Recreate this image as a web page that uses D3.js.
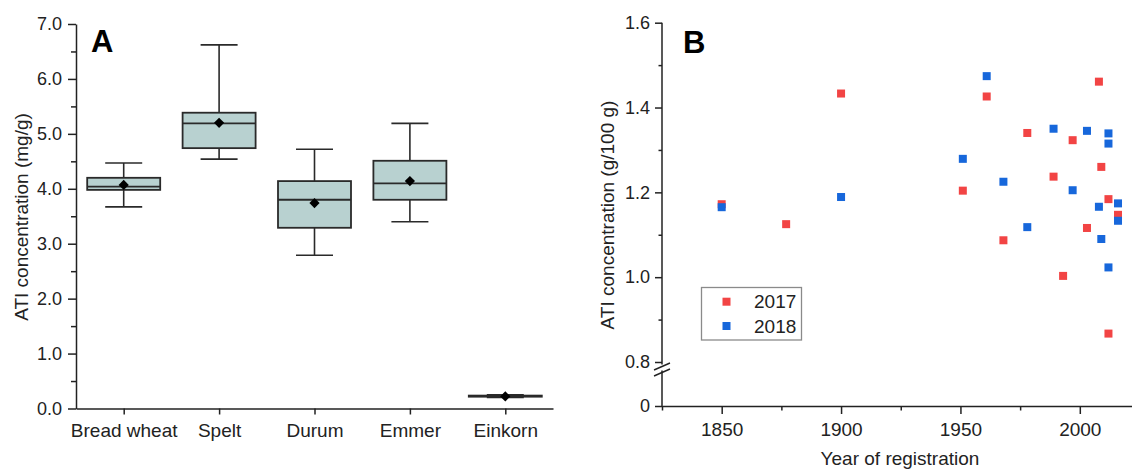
<!DOCTYPE html>
<html>
<head>
<meta charset="utf-8">
<style>
    body { margin: 0; background: white; }
    svg { font-family: "Liberation Sans", Arial, sans-serif; display: block; }
    .axis text { font-size: 18px; fill: #222; }
    .axis path, .axis line { stroke: #222; stroke-width: 1.5; }
</style>
</head>
<body>
<svg width="1132" height="472"></svg>
<script src="https://cdn.jsdelivr.net/npm/d3@7"></script>
<script>
    // panel A: box plots
    let categories = ["Bread wheat", "Spelt", "Durum", "Emmer", "Einkorn"];
    let whiskerLow = [3.67, 4.54, 2.79, 3.40, 0.20];
    let q1 = [3.98, 4.74, 3.29, 3.80, 0.215];
    let median = [4.04, 5.19, 3.80, 4.10, 0.225];
    let q3 = [4.20, 5.385, 4.14, 4.51, 0.235];
    let whiskerHigh = [4.47, 6.62, 4.72, 5.19, 0.25];
    let means = [4.07, 5.20, 3.74, 4.14, 0.22];

    // panel B: scatter by year of registration
    let years2017 = [1850, 1877, 1900, 1951, 1961, 1968, 1978, 1989, 1993, 1997, 2003, 2008, 2009, 2012, 2012, 2016];
    let ati2017 = [1.172, 1.125, 1.433, 1.204, 1.426, 1.087, 1.340, 1.237, 1.003, 1.323, 1.116, 1.461, 1.260, 1.184, 0.867, 1.147];
    let years2018 = [1850, 1900, 1951, 1961, 1968, 1978, 1989, 1997, 2003, 2008, 2009, 2012, 2012, 2012, 2016, 2016];
    let ati2018 = [1.165, 1.189, 1.279, 1.474, 1.225, 1.118, 1.350, 1.205, 1.345, 1.166, 1.090, 1.339, 1.315, 1.023, 1.174, 1.133];

    let red = "#f24444";
    let blue = "#1767db";

    let svg = d3.select("svg");

    // ---------- A ----------
    let xA = d3.scalePoint().domain(categories).range([76, 553]).padding(0.5);
    let yA = d3.scaleLinear().domain([0, 7]).range([408.5, 24]);

    let gA = svg.append("g");

    gA.append("g")
        .attr("class", "axis")
        .attr("transform", "translate(76,0)")
        .call(d3.axisLeft(yA).tickValues(d3.range(0.5, 7, 1)).tickSize(5).tickSizeOuter(0).tickFormat(""))
        .select(".domain").remove();

    gA.append("g")
        .attr("class", "axis")
        .attr("transform", "translate(76,0)")
        .call(d3.axisLeft(yA).tickValues(d3.range(0, 7.01, 1)).tickSize(8).tickSizeOuter(0).tickPadding(6).tickFormat(d3.format(".1f")))

    let xAxisA = gA.append("g")
        .attr("class", "axis")
        .attr("transform", "translate(0,408.5)")
        .call(d3.axisBottom(xA).tickSize(6).tickSizeOuter(0).tickPadding(9))
    xAxisA.selectAll("text").style("font-size", "19px")

    let boxW = 73, capW = 37;
    let boxes = gA.append("g")
        .selectAll("g")
        .data(categories)
        .join("g")
        .attr("transform", d => `translate(${xA(d)},0)`)

    boxes.append("line")
        .attr("y1", (d, i) => yA(whiskerLow[i]))
        .attr("y2", (d, i) => yA(whiskerHigh[i]))
        .attr("stroke", "#2a2a2a").attr("stroke-width", 1.6)
    boxes.append("line")
        .attr("x1", -capW / 2).attr("x2", capW / 2)
        .attr("y1", (d, i) => yA(whiskerLow[i])).attr("y2", (d, i) => yA(whiskerLow[i]))
        .attr("stroke", "#2a2a2a").attr("stroke-width", 1.6)
    boxes.append("line")
        .attr("x1", -capW / 2).attr("x2", capW / 2)
        .attr("y1", (d, i) => yA(whiskerHigh[i])).attr("y2", (d, i) => yA(whiskerHigh[i]))
        .attr("stroke", "#2a2a2a").attr("stroke-width", 1.6)
    boxes.append("rect")
        .attr("x", -boxW / 2).attr("width", boxW)
        .attr("y", (d, i) => yA(q3[i]))
        .attr("height", (d, i) => yA(q1[i]) - yA(q3[i]))
        .attr("fill", "#b8d1d0")
        .attr("stroke", "#2a2a2a").attr("stroke-width", 1.8)
    boxes.append("line")
        .attr("x1", -boxW / 2).attr("x2", boxW / 2)
        .attr("y1", (d, i) => yA(median[i])).attr("y2", (d, i) => yA(median[i]))
        .attr("stroke", "#2a2a2a").attr("stroke-width", 1.8)
    boxes.append("path")
        .attr("d", d3.symbol(d3.symbolSquare, 52))
        .attr("transform", (d, i) => `translate(0,${yA(means[i])}) rotate(45)`)
        .attr("fill", "black")

    gA.append("text")
        .attr("transform", "translate(21,217) rotate(-90)")
        .attr("text-anchor", "middle")
        .attr("dominant-baseline", "central")
        .style("font-size", "19px").style("fill", "#222")
        .text("ATI concentration (mg/g)")

    gA.append("text")
        .attr("x", 91).attr("y", 52)
        .style("font-size", "31px").style("font-weight", "bold")
        .text("A")

    // ---------- B ----------
    let xB = d3.scaleLinear().domain([1825, 2025]).range([662, 1139.5]);
    let yB = d3.scaleLinear().domain([0.8, 1.6]).range([362, 22.7]);
    let yB0 = d3.scaleLinear().domain([0, 0.1]).range([406, 364]);

    let gB = svg.append("g");

    // bottom axis: minor every 25, labels every 50
    gB.append("g")
        .attr("class", "axis")
        .attr("transform", "translate(0,406)")
        .call(d3.axisBottom(xB).tickValues([1825, 1875, 1925, 1975, 2025]).tickSize(4.5).tickSizeOuter(0).tickFormat(""))
        .select(".domain").remove();
    gB.append("g")
        .attr("class", "axis")
        .attr("transform", "translate(0,406)")
        .call(d3.axisBottom(xB).tickValues([1850, 1900, 1950, 2000]).tickSize(8).tickSizeOuter(0).tickPadding(9).tickFormat(d3.format("d")))
        .selectAll("text").style("font-size", "19px")

    // upper y segment
    gB.append("g")
        .attr("class", "axis")
        .attr("transform", "translate(662,0)")
        .call(d3.axisLeft(yB).tickValues([0.9, 1.1, 1.3, 1.5]).tickSize(3.5).tickFormat(""))
        .select(".domain").remove();
    let upper = gB.append("g")
        .attr("class", "axis")
        .attr("transform", "translate(662,0)")
        .call(d3.axisLeft(yB).tickValues([0.8, 1.0, 1.2, 1.4, 1.6]).tickSize(7).tickPadding(5).tickFormat(d3.format(".1f")))
    upper.select(".domain").attr("d", `M0,${yB(1.6)}V${yB(0.8) + 2.5}`)

    // lower y segment, only the zero
    let lower = gB.append("g")
        .attr("class", "axis")
        .attr("transform", "translate(662,0)")
        .call(d3.axisLeft(yB0).tickValues([0]).tickSize(7).tickPadding(5).tickFormat(d3.format("d")))
    lower.select(".domain").attr("d", `M0,${yB0(0)}V${yB(0.8) + 8.5}`)

    // break marks
    gB.append("g")
        .selectAll("line")
        .data([0, 6])
        .join("line")
        .attr("x1", 654).attr("x2", 670)
        .attr("y1", d => yB(0.8) + 8 + d).attr("y2", d => yB(0.8) + 1 + d)
        .attr("stroke", "#222").attr("stroke-width", 1.4)

    gB.append("g")
        .selectAll("rect")
        .data(years2017)
        .join("rect")
        .attr("x", d => xB(d) - 4)
        .attr("y", (d, i) => yB(ati2017[i]) - 4)
        .attr("width", 8).attr("height", 8)
        .attr("fill", red)

    gB.append("g")
        .selectAll("rect")
        .data(years2018)
        .join("rect")
        .attr("x", d => xB(d) - 4)
        .attr("y", (d, i) => yB(ati2018[i]) - 4)
        .attr("width", 8).attr("height", 8)
        .attr("fill", blue)

    gB.append("text")
        .attr("transform", "translate(607,215) rotate(-90)")
        .attr("text-anchor", "middle")
        .attr("dominant-baseline", "central")
        .style("font-size", "19px").style("fill", "#222")
        .text("ATI concentration (g/100 g)")

    gB.append("text")
        .attr("x", 900).attr("y", 465)
        .attr("text-anchor", "middle")
        .style("font-size", "19px").style("fill", "#222")
        .text("Year of registration")

    gB.append("text")
        .attr("x", 683).attr("y", 53)
        .style("font-size", "31px").style("font-weight", "bold")
        .text("B")

    // legend
    let legend = gB.append("g")
    legend.append("rect")
        .attr("x", 701.5).attr("y", 287.5).attr("width", 100).attr("height", 52.5)
        .attr("fill", "white").attr("stroke", "#8a8a8a").attr("stroke-width", 1.3)
    let legendItems = legend.selectAll("g")
        .data([["2017", red], ["2018", blue]])
        .join("g")
        .attr("transform", (d, i) => `translate(0,${301.7 + i * 24.3})`)
    legendItems.append("rect")
        .attr("x", 722.5).attr("y", -4).attr("width", 8).attr("height", 8)
        .attr("fill", d => d[1])
    legendItems.append("text")
        .attr("x", 754).attr("y", 0)
        .attr("dominant-baseline", "central")
        .style("font-size", "19px").style("fill", "#222")
        .text(d => d[0])
</script>
</body>
</html>
